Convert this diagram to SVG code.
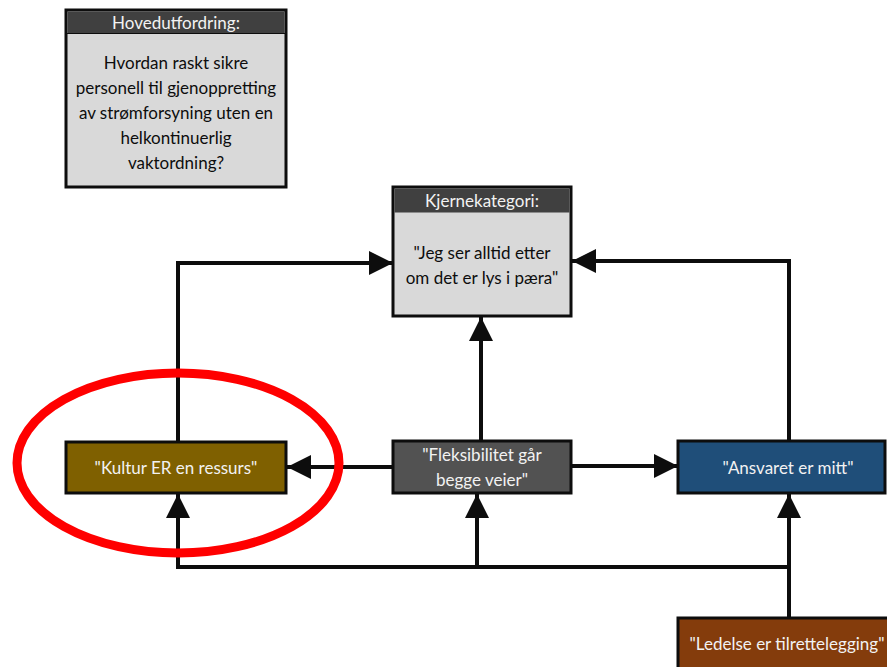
<svg xmlns="http://www.w3.org/2000/svg" width="887" height="667" viewBox="0 0 887 667">
  <defs>
    <marker id="arrow" viewBox="0 0 24 24" refX="24" refY="12" markerWidth="24" markerHeight="24" markerUnits="userSpaceOnUse" orient="auto">
      <path d="M0,0 L24,12 L0,24 Z" fill="#0d0d0d"/>
    </marker>
    <style>
      text { font-family: Lato, "Liberation Sans", sans-serif; font-size: 17px; text-anchor: middle; }
      .box { stroke: #0d0d0d; stroke-width: 3; }
      .grey { fill: #d9d9d9; }
      .head { fill: #404040; }
      .dark { fill: #0d0d0d; }
      .light { fill: #f2f2f2; }
      .link { fill: none; stroke: #0d0d0d; stroke-width: 4; }
    </style>
  </defs>
  <rect width="887" height="667" fill="#ffffff"/>

  <g id="connectors">
    <!-- Kultur -> Kjernekategori -->
    <path class="link" d="M178,442 V263 H393" marker-end="url(#arrow)"/>
    <!-- Ansvaret -> Kjernekategori -->
    <path class="link" d="M789,441 V261 H572" marker-end="url(#arrow)"/>
    <!-- Fleksibilitet -> Kjernekategori -->
    <path class="link" d="M481,441 V317" marker-end="url(#arrow)"/>
    <!-- Fleksibilitet -> Kultur -->
    <path class="link" d="M393,467 H287" marker-end="url(#arrow)"/>
    <!-- Fleksibilitet -> Ansvaret -->
    <path class="link" d="M571,466 H678" marker-end="url(#arrow)"/>
    <!-- bottom bus from Ledelse -->
    <path class="link" d="M789,567 H178 V494" marker-end="url(#arrow)"/>
    <path class="link" d="M477,567 V494" marker-end="url(#arrow)"/>
    <path class="link" d="M789,618 V494" marker-end="url(#arrow)"/>
  </g>

  <g id="hovedutfordring">
    <rect class="box grey" x="66" y="10" width="220" height="177"/>
    <rect class="head" x="67.5" y="11.5" width="217" height="22"/>
    <line x1="66" y1="33.5" x2="286" y2="33.5" stroke="#0d0d0d" stroke-width="1"/>
    <text class="light" x="176" y="29">Hovedutfordring:</text>
    <text class="dark" x="176" y="69">Hvordan raskt sikre</text>
    <text class="dark" x="176" y="94">personell til gjenoppretting</text>
    <text class="dark" x="176" y="119">av strømforsyning uten en</text>
    <text class="dark" x="176" y="144">helkontinuerlig</text>
    <text class="dark" x="176" y="169">vaktordning?</text>
  </g>

  <g id="kjernekategori">
    <rect class="box grey" x="393" y="187" width="178" height="129"/>
    <rect class="head" x="394.5" y="188.5" width="175" height="24"/>
    <text class="light" x="482" y="207">Kjernekategori:</text>
    <text class="dark" x="482" y="259">"Jeg ser alltid etter</text>
    <text class="dark" x="482" y="284">om det er lys i pæra"</text>
  </g>

  <g id="kultur">
    <rect class="box" fill="#7f6000" x="66" y="442" width="220" height="51"/>
    <text class="light" x="176" y="474">"Kultur ER en ressurs"</text>
  </g>

  <g id="fleksibilitet">
    <rect class="box" fill="#525252" x="393" y="441" width="178" height="52"/>
    <text class="light" x="482" y="461">"Fleksibilitet går</text>
    <text class="light" x="482" y="486">begge veier"</text>
  </g>

  <g id="ansvaret">
    <rect class="box" fill="#1f4e79" x="678" y="441" width="207" height="52"/>
    <text class="light" x="788" y="474">"Ansvaret er mitt"</text>
  </g>

  <g id="ledelse">
    <rect class="box" fill="#843c0c" x="678" y="618" width="220" height="60"/>
    <text class="light" x="787" y="650">"Ledelse er tilrettelegging"</text>
  </g>

  <ellipse id="markering" cx="178" cy="463" rx="161" ry="90" fill="none" stroke="#ff0000" stroke-width="9"/>
</svg>
